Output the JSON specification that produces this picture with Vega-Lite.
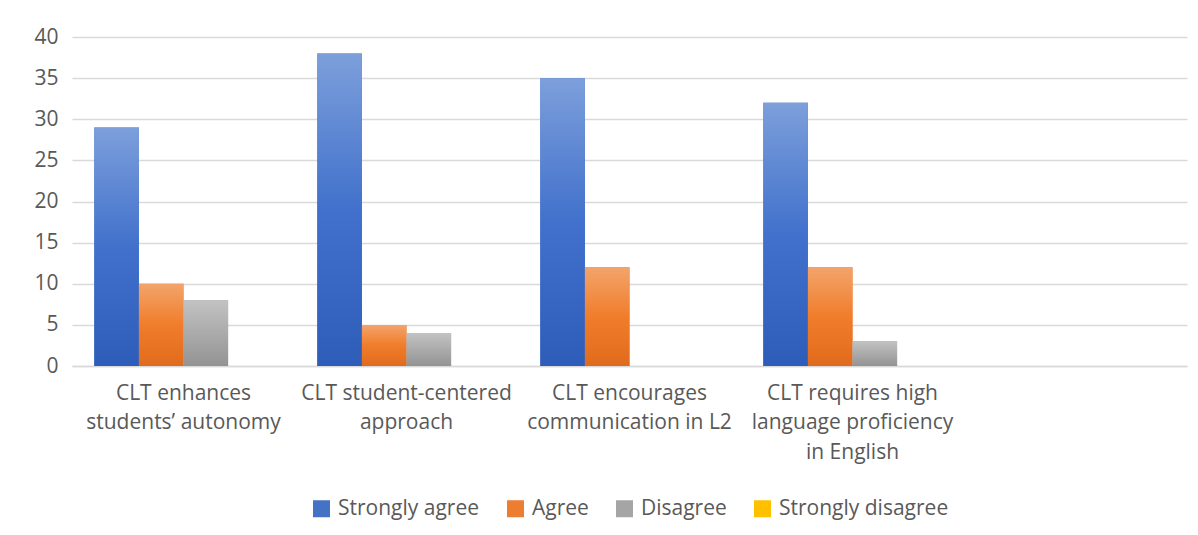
{
  "$schema": "https://vega.github.io/schema/vega-lite/v6.json",
  "width": 1115,
  "height": 329,
  "autosize": {"type": "none"},
  "padding": {"left": 72, "top": 37, "right": 11, "bottom": 169},
  "background": "white",
  "data": {
    "values": [
      {"statement": "CLT enhances students’ autonomy", "response": "Strongly agree", "count": 29},
      {"statement": "CLT enhances students’ autonomy", "response": "Agree", "count": 10},
      {"statement": "CLT enhances students’ autonomy", "response": "Disagree", "count": 8},
      {"statement": "CLT enhances students’ autonomy", "response": "Strongly disagree", "count": 0},
      {"statement": "CLT student-centered approach", "response": "Strongly agree", "count": 38},
      {"statement": "CLT student-centered approach", "response": "Agree", "count": 5},
      {"statement": "CLT student-centered approach", "response": "Disagree", "count": 4},
      {"statement": "CLT student-centered approach", "response": "Strongly disagree", "count": 0},
      {"statement": "CLT encourages communication in L2", "response": "Strongly agree", "count": 35},
      {"statement": "CLT encourages communication in L2", "response": "Agree", "count": 12},
      {"statement": "CLT encourages communication in L2", "response": "Disagree", "count": 0},
      {"statement": "CLT encourages communication in L2", "response": "Strongly disagree", "count": 0},
      {"statement": "CLT requires high language proficiency in English", "response": "Strongly agree", "count": 32},
      {"statement": "CLT requires high language proficiency in English", "response": "Agree", "count": 12},
      {"statement": "CLT requires high language proficiency in English", "response": "Disagree", "count": 3},
      {"statement": "CLT requires high language proficiency in English", "response": "Strongly disagree", "count": 0}
    ]
  },
  "encoding": {
    "x": {
      "field": "statement",
      "type": "nominal",
      "title": null,
      "scale": {
        "domain": [
          "CLT enhances students’ autonomy",
          "CLT student-centered approach",
          "CLT encourages communication in L2",
          "CLT requires high language proficiency in English",
          " "
        ],
        "paddingInner": 0.2,
        "paddingOuter": 0.1
      },
      "axis": {
        "labelAngle": 0,
        "labelExpr": "datum.value == 'CLT enhances students’ autonomy' ? ['CLT enhances', 'students’ autonomy'] : datum.value == 'CLT student-centered approach' ? ['CLT student-centered', 'approach'] : datum.value == 'CLT encourages communication in L2' ? ['CLT encourages', 'communication in L2'] : datum.value == 'CLT requires high language proficiency in English' ? ['CLT requires high', 'language proficiency', 'in English'] : ''",
        "labelLineHeight": 29.5,
        "labelPadding": 16,
        "labelBaseline": "top",
        "labelLimit": 0,
        "labelOverlap": false,
        "ticks": false,
        "domain": true,
        "domainColor": "#D9D9D9",
        "domainWidth": 1.5,
        "grid": false
      }
    },
    "xOffset": {
      "field": "response",
      "type": "nominal",
      "scale": {
        "domain": ["Strongly agree", "Agree", "Disagree", "Strongly disagree"],
        "paddingInner": 0,
        "paddingOuter": 0
      }
    },
    "y": {
      "field": "count",
      "type": "quantitative",
      "title": null,
      "scale": {"domain": [0, 40], "nice": false},
      "axis": {
        "values": [0, 5, 10, 15, 20, 25, 30, 35, 40],
        "ticks": false,
        "domain": false,
        "labelPadding": 14,
        "gridColor": "#D9D9D9",
        "gridWidth": 1.5
      }
    }
  },
  "layer": [
    {
      "mark": {"type": "bar"},
      "encoding": {
        "color": {
          "field": "response",
          "type": "nominal",
          "title": null,
          "scale": {
            "domain": ["Strongly agree", "Agree", "Disagree", "Strongly disagree"],
            "range": ["#4472C4", "#ED7D31", "#A5A5A5", "#FFC000"]
          },
          "legend": {
            "orient": "bottom",
            "direction": "horizontal",
            "symbolType": "square",
            "symbolSize": 289,
            "symbolStrokeWidth": 0,
            "symbolOpacity": 1,
            "labelOffset": 6,
            "labelLimit": 0,
            "columnPadding": 25,
            "offset": 36
          }
        }
      }
    },
    {
      "mark": {"type": "bar"},
      "encoding": {
        "color": {
          "condition": [
            {
              "test": "datum.response == 'Strongly agree'",
              "value": {"gradient": "linear", "x1": 0, "y1": 0, "x2": 0, "y2": 1, "stops": [
                {"offset": 0, "color": "#7D9FDB"},
                {"offset": 0.5, "color": "#4171CC"},
                {"offset": 1, "color": "#2E5DB9"}
              ]}
            },
            {
              "test": "datum.response == 'Agree'",
              "value": {"gradient": "linear", "x1": 0, "y1": 0, "x2": 0, "y2": 1, "stops": [
                {"offset": 0, "color": "#F3A46B"},
                {"offset": 0.5, "color": "#F07D2B"},
                {"offset": 1, "color": "#E16B1D"}
              ]}
            },
            {
              "test": "datum.response == 'Disagree'",
              "value": {"gradient": "linear", "x1": 0, "y1": 0, "x2": 0, "y2": 1, "stops": [
                {"offset": 0, "color": "#C2C2C2"},
                {"offset": 0.5, "color": "#ABABAB"},
                {"offset": 1, "color": "#939393"}
              ]}
            }
          ],
          "value": {"gradient": "linear", "x1": 0, "y1": 0, "x2": 0, "y2": 1, "stops": [
            {"offset": 0, "color": "#FFD050"},
            {"offset": 0.5, "color": "#FFC000"},
            {"offset": 1, "color": "#F2B000"}
          ]}
        }
      }
    }
  ],
  "config": {
    "font": "Open Sans",
    "view": {"stroke": null},
    "axis": {
      "labelFont": "Open Sans",
      "labelFontSize": 21,
      "labelColor": "#595959"
    },
    "legend": {
      "labelFont": "Open Sans",
      "labelFontSize": 21,
      "labelColor": "#595959",
      "layout": {"bottom": {"anchor": "middle"}}
    }
  }
}
